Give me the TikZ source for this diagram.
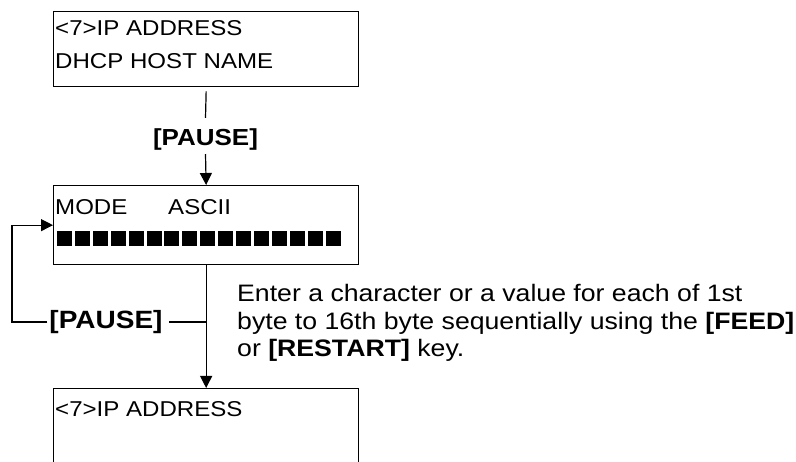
\documentclass[tikz,border=0pt]{standalone}
\usepackage{fontspec}
\setmainfont{Liberation Sans}[FakeStretch=1.12]
\usetikzlibrary{arrows.meta}

\tikzset{
  screen/.style={draw, line width=1.3pt, anchor=north west, minimum width=305pt, inner sep=0pt},
  lcd/.style={anchor=base west, inner sep=0pt, font=\fontsize{21.5}{24}\selectfont},
  key/.style={inner sep=0pt, font=\bfseries\fontsize{23.2}{26}\selectfont},
  note/.style={anchor=base west, inner sep=0pt, align=left, font=\fontsize{23.8}{27.5}\selectfont},
  flow/.style={line width=1.2pt},
  arr/.style={flow, -{Triangle[length=12pt,width=12pt]}}
}

\begin{document}
\begin{tikzpicture}[x=1pt,y=-1pt]
\clip (0,0) rectangle (796,462);

% first screen
\node[screen, minimum height=75pt] (scr1) at (53,11) {};
\node[lcd] (scr1a) at (55,36) {<7>IP ADDRESS};
\node[lcd] (scr1b) at (55,69) {DHCP HOST NAME};

\node[key] (pause1) at (205.5,140) {[PAUSE]};
\draw[flow] ([yshift=-4pt]scr1.south) -- ([yshift=11pt]pause1.north);

% mode screen
\node[screen, minimum height=79pt] (scr2) at (53,185) {};
\node[lcd] (scr2a) at (55,215) {MODE};
\node[lcd] (scr2b) at (168,215) {ASCII};
\foreach \i in {0,...,15}
  \fill (57+17.9*\i,231) rectangle ++(15,15);
\draw[arr] ([yshift=-3pt]pause1.south) -- (scr2.north);

% last screen
\node[screen, minimum height=100pt] (scr3) at (53,388) {};
\node[lcd] (scr3a) at (55,417) {<7>IP ADDRESS};

\draw[arr] (scr2.south) -- (scr3.north);

% loop back
\coordinate (fork) at (205.5,322);
\coordinate (loopL) at (12,322);
\node[key, font=\bfseries\fontsize{25}{28}\selectfont] (pause2) at (106,322) {[PAUSE]};
\draw[flow] (fork) -- ([xshift=6pt]pause2.east);
\draw[arr] ([xshift=-2pt]pause2.west) -- (loopL) |- (scr2.west);

\node[note] (hint) at (237,357) {Enter a character or a value for each of 1st\\
byte to 16th byte sequentially using the \textbf{[FEED]}\\
or \textbf{[RESTART]} key.};
\end{tikzpicture}
\end{document}
